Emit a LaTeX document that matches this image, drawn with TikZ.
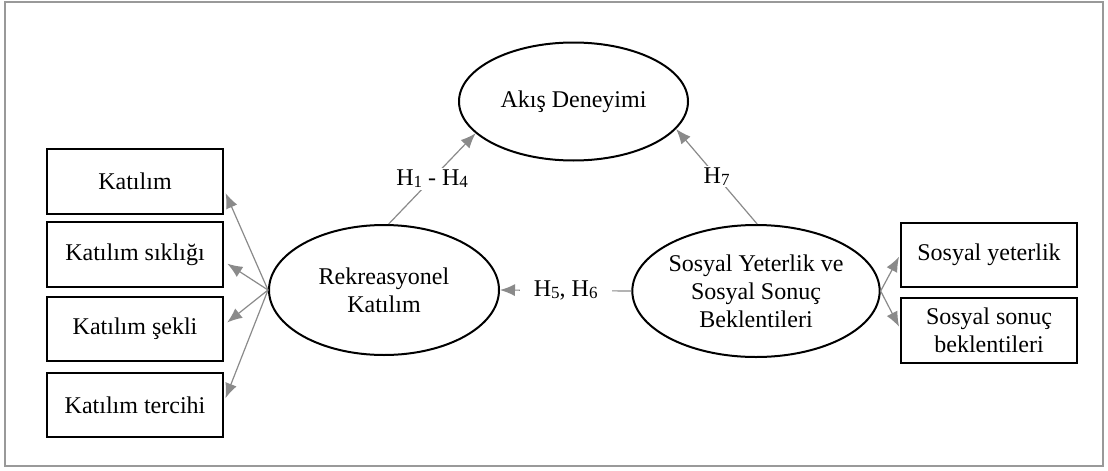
\documentclass[tikz,border=0pt]{standalone}
\usepackage{fontspec}
\setmainfont{Liberation Serif}
\usetikzlibrary{shapes.geometric,arrows.meta,calc}

\newlength{\du}
\setlength{\du}{0.5pt}
\newcommand{\hsub}[1]{\raisebox{-0.2ex}{\fontsize{8.5}{8.5}\selectfont #1}}

\definecolor{okgray}{rgb}{0.540000, 0.540000, 0.540000}
\definecolor{framegray}{rgb}{0.600000, 0.600000, 0.600000}

\tikzset{
  elips/.style={ellipse, draw=black, line width=2\du, inner sep=0pt, align=center},
  kutu/.style={rectangle, draw=black, line width=2\du, inner sep=0pt, align=center},
  ok/.style={draw=okgray, line width=1.2\du, -{Latex[length=7.5pt,width=6pt]}},
  etiket/.style={fill=white, inner sep=2\du}
}

\begin{document}
\begin{tikzpicture}[yscale=-1, font=\fontsize{12}{14}\selectfont]
\useasboundingbox (0\du,0\du) rectangle (1108\du,471\du);
% frame
\draw[framegray, line width=2.5\du] (5\du,2\du) rectangle (1103\du,466\du);
% latent variables
\node[elips, minimum width=229\du, minimum height=118\du] (akis) at (573.5\du,101.5\du){Akış Deneyimi};
\node[elips, minimum width=230\du, minimum height=130\du] (rek) at (384\du,290\du){Rekreasyonel\\Katılım};
\node[elips, minimum width=228\du, minimum height=132\du] (sosyal) at (756\du,291\du){Sosyal Yeterlik ve\\Sosyal Sonuç\\Beklentileri};
% left boxes
\node[kutu, minimum width=176\du, minimum height=65\du] (katilim) at (135\du,181.5\du){Katılım};
\node[kutu, minimum width=176\du, minimum height=65\du] (siklik) at (135\du,254.5\du){Katılım sıklığı};
\node[kutu, minimum width=176\du, minimum height=64\du] (sekil) at (135\du,329\du){Katılım şekli};
\node[kutu, minimum width=176\du, minimum height=64\du] (tercih) at (135\du,405\du){Katılım tercihi};
% right boxes
\node[kutu, minimum width=176\du, minimum height=64\du] (yeterlik) at (989\du,255\du){Sosyal yeterlik};
\node[kutu, minimum width=176\du, minimum height=65\du] (beklenti) at (989\du,330.5\du){Sosyal sonuç\\beklentileri};
% indicators
\foreach \kutuadi/\oy in {katilim/8,siklik/7,sekil/-4,tercih/-3}
  \draw[ok, shorten >=4\du] (rek.west) -- ($(\kutuadi.east)+(0,\oy*\du)$);
\draw[ok, shorten >=2\du] (sosyal.east) -- (yeterlik.west);
\draw[ok, shorten >=2\du] (sosyal.east) -- ($(beklenti.west)+(0,-2\du)$);
% hypotheses
\draw[ok] (rek.86) -- node[etiket]{H\hsub{1} - H\hsub{4}} (akis.198);
\draw[ok] (sosyal.89) -- node[etiket]{H\hsub{7}} (akis.345);
\draw[ok] (sosyal.west) -- node[etiket, inner xsep=14\du]{H\hsub{5}, H\hsub{6}} (rek.east);
\end{tikzpicture}
\end{document}
